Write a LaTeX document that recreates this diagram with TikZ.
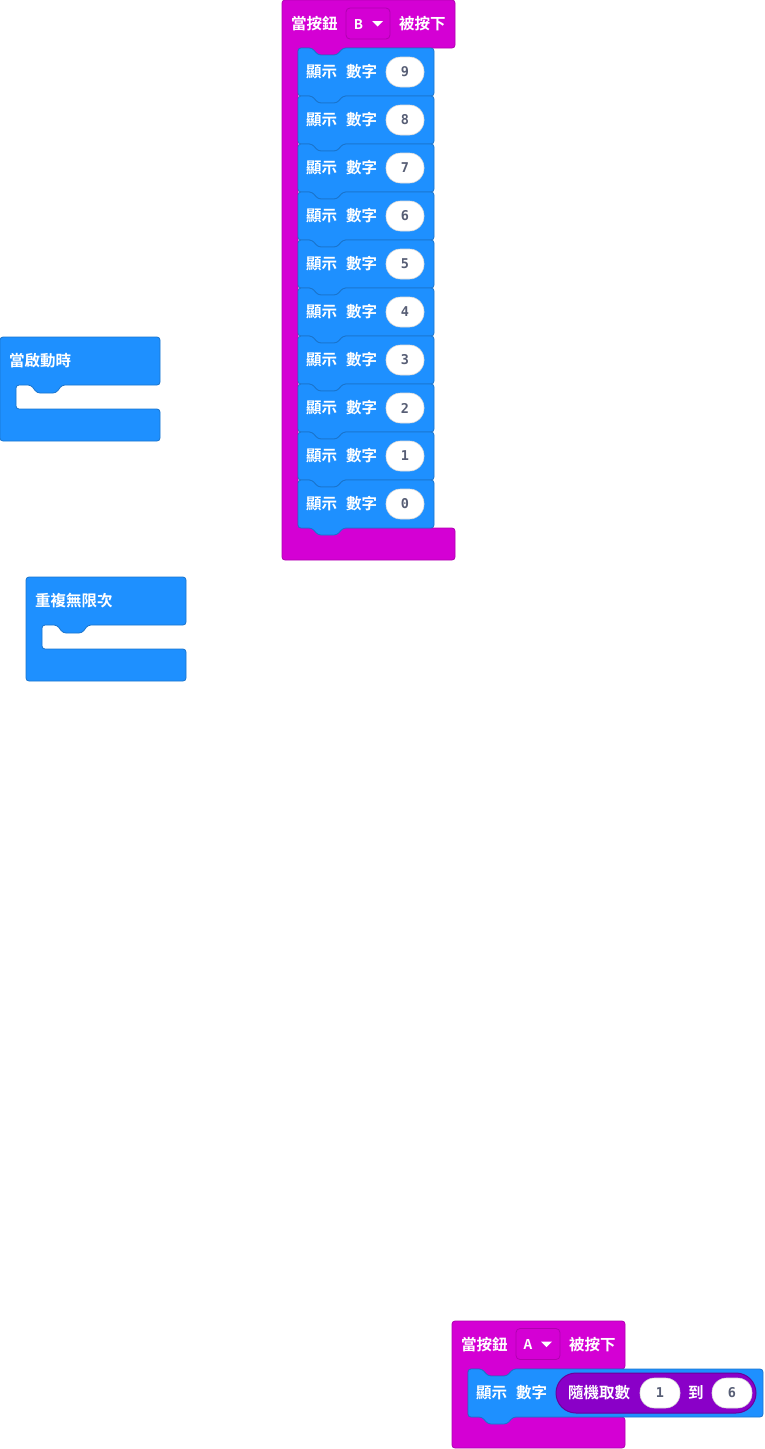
\documentclass[tikz,border=0pt]{standalone}
\usepackage{fontspec}
\usepackage{tikz}

\newfontfamily\cjk{Noto Sans CJK TC}[BoldFont={* Bold}]
\newfontfamily\mono{DejaVu Sans Mono}

\definecolor{eventpurple}{HTML}{D400D4}
\definecolor{eventline}{HTML}{B000B0}
\definecolor{basicblue}{HTML}{1E90FF}
\definecolor{basicline}{HTML}{1A74CC}
\definecolor{mathpurple}{HTML}{8A00C8}
\definecolor{mathline}{HTML}{6A009A}
\definecolor{numgrey}{HTML}{575E75}

\tikzset{
	blockline/.style={line width=0.8pt, rounded corners=3pt, line join=round},
	eventblock/.style={blockline, fill=eventpurple, draw=eventline},
	stmtblock/.style={blockline, fill=basicblue, draw=basicline},
	mathblock/.style={fill=mathpurple, draw=mathline, line width=1pt, rounded corners=20pt},
	dropbox/.style={fill=eventpurple, draw=eventline, line width=0.8pt, rounded corners=4pt,
		minimum width=44pt, minimum height=31pt, inner sep=0pt},
	droptip/.style={fill=white},
	blocktext/.style={anchor=west, inner sep=0pt, text=white,
		font=\cjk\bfseries\fontsize{15.5}{15.5}\selectfont},
	droptext/.style={inner sep=0pt, text=white,
		font=\cjk\bfseries\fontsize{13.5}{13.5}\selectfont},
	numoval/.style={fill=white, draw=black!15, line width=0.6pt, rounded corners=14.5pt,
		minimum width=38pt, minimum height=30pt, inner sep=0pt, text=numgrey,
		font=\mono\bfseries\fontsize{13.5}{13.5}\selectfont},
}

\begin{document}
\begin{tikzpicture}[x=1pt, y=-1pt]

% canvas %{{{2

	\useasboundingbox (0,0) rectangle (764,1449);

% parameters %{{{2

	\def\armB{298}
	\def\rightB{434}

% button B block %{{{2

	\draw[eventblock] (282,280) -- (282,0) -- (455,0) -- (455,48) -- (343,48) -- (337,55)
		-- (318,55) -- (312,48) -- (298,48) -- (298,528) -- (455,528) -- (455,560)
		-- (282,560) -- cycle;

	\node[blocktext] (hatB) at (291,24) {當按鈕};
	\node[dropbox] (dropB) at (368,23.5) {};
	\node[droptext] (keyB) at (358.5,24) {B};
	\fill[droptip] (372,21) -- (383,21) -- (377.5,26.5) -- cycle;
	\node[blocktext] (pressB) at (399,24) {被按下};

% show number blocks %{{{2

	\foreach \k in {0,...,9} {
		\pgfmathtruncatemacro{\n}{9-\k}
		\pgfmathsetmacro{\y}{48+48*\k}
		\draw[stmtblock] (\armB,\y+24) -- (\armB,\y) -- (\armB+14,\y) -- (\armB+20,\y+7)
			-- (\armB+39,\y+7) -- (\armB+45,\y) -- (\rightB,\y) -- (\rightB,\y+48)
			-- (\armB+45,\y+48) -- (\armB+39,\y+55) -- (\armB+20,\y+55) -- (\armB+14,\y+48)
			-- (\armB,\y+48) -- cycle;
		\node[blocktext] (showB\n) at (306,\y+24) {顯示};
		\node[blocktext] (digitB\n) at (346,\y+24) {數字};
		\node[numoval] (valB\n) at (405,\y+24) {\n};
	}

% on start block %{{{2

	\draw[stmtblock] (0,390) -- (0,337) -- (160,337) -- (160,385) -- (62,385) -- (56,393)
		-- (37,393) -- (31,385) -- (16,385) -- (16,409) -- (160,409) -- (160,441)
		-- (0,441) -- cycle;

	\node[blocktext] (onstart) at (9,361) {當啟動時};

% forever block %{{{2

	\draw[stmtblock] (26,630) -- (26,577) -- (186,577) -- (186,625) -- (88,625) -- (82,633)
		-- (63,633) -- (57,625) -- (42,625) -- (42,649) -- (186,649) -- (186,681)
		-- (26,681) -- cycle;

	\node[blocktext] (forever) at (35,601) {重複無限次};

% button A block %{{{2

	\draw[eventblock] (452,1380) -- (452,1321) -- (625,1321) -- (625,1369) -- (513,1369)
		-- (507,1376) -- (488,1376) -- (482,1369) -- (468,1369) -- (468,1417)
		-- (625,1417) -- (625,1448) -- (452,1448) -- cycle;

	\node[blocktext] (hatA) at (461,1345) {當按鈕};
	\node[dropbox] (dropA) at (538,1344) {};
	\node[droptext] (keyA) at (528,1344.5) {A};
	\fill[droptip] (541,1341.5) -- (552,1341.5) -- (546.5,1347) -- cycle;
	\node[blocktext] (pressA) at (569,1345) {被按下};

% random show block %{{{2

	\draw[stmtblock] (468,1393) -- (468,1369) -- (482,1369) -- (488,1376) -- (507,1376)
		-- (513,1369) -- (763,1369) -- (763,1417) -- (513,1417) -- (507,1424)
		-- (488,1424) -- (482,1417) -- (468,1417) -- cycle;

	\node[blocktext] (showA) at (476,1393) {顯示};
	\node[blocktext] (digitA) at (516,1393) {數字};

	\draw[mathblock] (556,1373) rectangle (756,1413);
	\node[blocktext] (randA) at (568,1393) {隨機取數};
	\node[numoval, minimum width=40pt] (lowA) at (660,1393) {1};
	\node[blocktext] (toA) at (688,1393) {到};
	\node[numoval, minimum width=40pt] (highA) at (732,1393) {6};

% closing %{{{2

\end{tikzpicture}
\end{document}
